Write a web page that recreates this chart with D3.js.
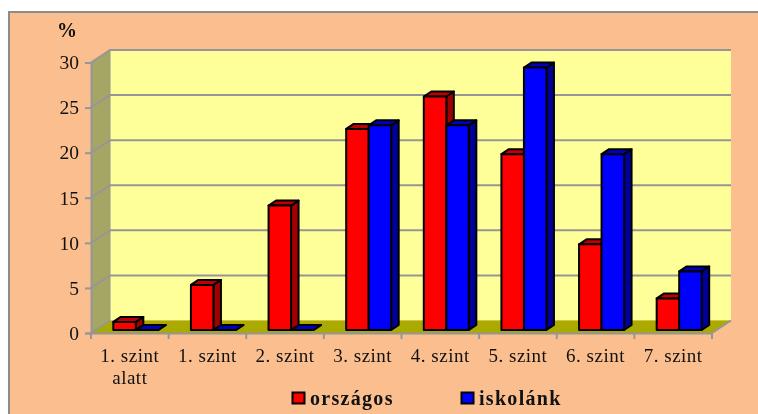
<!DOCTYPE html>
<html>
<head>
<meta charset="utf-8">
<script src="https://cdn.jsdelivr.net/npm/d3@7"></script>
<style>
html, body { margin: 0; padding: 0; background: #fff; }
svg { filter: blur(0.35px); }
text { font-family: "Liberation Serif", serif; fill: #111; }
</style>
</head>
<body>
<div id="chart"></div>
<script>
// values
var categories = ["1. szint alatt", "1. szint", "2. szint", "3. szint", "4. szint", "5. szint", "6. szint", "7. szint"];
var seriesNames = ["országos", "iskolánk"];
var orszagos = [0.9, 5, 13.8, 22.3, 25.9, 19.5, 9.5, 3.5];
var iskolank = [0, 0, 0, 22.7, 22.7, 29.1, 19.5, 6.5];
var yTicks = [0, 5, 10, 15, 20, 25, 30];

var frontColors = ["#ff0000", "#0000ff"];
var topColors = ["#c00000", "#0000c0"];
var sideColors = ["#a00000", "#000099"];

var w = 758, h = 414;
var depth = {x: 19, y: -12.5};   // wall offset of the 3d box
var barDepth = {x: 7.5, y: -5};  // depth of each bar
var barShift = {x: 6, y: -3};    // bars stand a bit behind the front edge

var svg = d3.select("#chart")
    .append("svg")
    .attr("width", w)
    .attr("height", h)
    .style("display", "block");

// background frame
svg.append("rect")
    .attr("x", 9).attr("y", 12)
    .attr("width", w - 9).attr("height", h - 12)
    .attr("fill", "#fbbf8f");
svg.append("path")
    .attr("d", "M9," + h + "V12H" + w)
    .attr("fill", "none")
    .attr("stroke", "#8c8c8c")
    .attr("stroke-width", 2);

var y = d3.scaleLinear().domain([0, 30]).range([333, 62.5]);
var x = d3.scaleBand().domain(categories).range([91, 712]).paddingInner(0.42).paddingOuter(0.21);
var xEdge = d3.scaleBand().domain(categories).range([91, 712]);
var xSeries = d3.scaleBand().domain(seriesNames).range([0, x.bandwidth()]);

var gray = "#969696";

// walls and floor
svg.append("path")
    .attr("d", d3.line()([[91, y(0)], [91, y(30)], [91 + depth.x, y(30) + depth.y], [91 + depth.x, y(0) + depth.y]]) + "Z")
    .attr("fill", "#a6a664");
svg.append("rect")
    .attr("x", 91 + depth.x).attr("y", y(30) + depth.y)
    .attr("width", 621).attr("height", y(0) - y(30))
    .attr("fill", "#ffff99");
svg.append("path")
    .attr("d", d3.line()([[91, y(0)], [712, y(0)], [712 + depth.x, y(0) + depth.y], [91 + depth.x, y(0) + depth.y]]) + "Z")
    .attr("fill", "#aaaa00");

// gridlines
yTicks.forEach(function(t) {
    svg.append("path")
        .attr("d", "M91," + y(t) + "l" + depth.x + "," + depth.y + "h621")
        .attr("fill", "none")
        .attr("stroke", gray)
        .attr("stroke-width", t == 0 ? 0 : 2);
});
svg.append("path")
    .attr("d", "M" + (91 + depth.x) + "," + (y(30) + depth.y) + "V" + (y(0) + depth.y))
    .attr("stroke", gray).attr("stroke-width", 1).attr("fill", "none");
svg.append("path")
    .attr("d", "M91," + y(0) + "l" + depth.x + "," + depth.y)
    .attr("stroke", gray).attr("stroke-width", 2).attr("fill", "none");
svg.append("path")
    .attr("d", "M712," + y(0) + "l" + depth.x + "," + depth.y)
    .attr("stroke", gray).attr("stroke-width", 2).attr("fill", "none");

// axes
var yAxis = d3.axisLeft(y).tickValues(yTicks).tickSize(6).tickPadding(6);
var gy = svg.append("g").attr("transform", "translate(91,0)").call(yAxis);
gy.select(".domain").attr("stroke", gray).attr("stroke-width", 2);
gy.selectAll("line").attr("stroke", gray).attr("stroke-width", 2);
gy.selectAll("text")
    .attr("font-size", 19.5)
    .attr("font-family", "Liberation Serif")
    .attr("fill", "#111")
    .attr("dy", "0.32em");

var xAxis = d3.axisBottom(xEdge).tickValues([]).tickSizeOuter(0);
var gx = svg.append("g").attr("transform", "translate(0," + y(0) + ")").call(xAxis);
gx.select(".domain").attr("stroke", gray).attr("stroke-width", 2);
gx.selectAll(".edge").data(categories.concat(["end"])).enter().append("line")
    .attr("class", "edge")
    .attr("x1", function(d, i) { return 91 + i * xEdge.step(); })
    .attr("x2", function(d, i) { return 91 + i * xEdge.step(); })
    .attr("y1", 0).attr("y2", 6)
    .attr("stroke", gray).attr("stroke-width", 2);

// category labels, wrapped like the original
var labels = svg.append("g").selectAll("text").data(categories).enter().append("text")
    .attr("text-anchor", "middle")
    .attr("font-size", 19)
    .attr("letter-spacing", 0.5)
    .attr("y", 362);
labels.each(function(d) {
    var parts = d.indexOf(" alatt") > 0 ? ["1. szint", "alatt"] : [d];
    d3.select(this).selectAll("tspan").data(parts).enter().append("tspan")
        .attr("x", xEdge(d) + xEdge.bandwidth() / 2)
        .attr("dy", function(p, i) { return i ? 22 : 0; })
        .text(function(p) { return p; });
});

// % label
svg.append("text")
    .attr("x", 67).attr("y", 37)
    .attr("text-anchor", "middle")
    .attr("font-size", 20)
    .attr("font-weight", "bold")
    .text("%");

// bars
var values = [orszagos, iskolank];
var baseY = y(0) + barShift.y;

categories.forEach(function(c, ci) {
    seriesNames.forEach(function(s, si) {
        var v = values[si][ci];
        var x0 = x(c) + xSeries(s) + barShift.x;
        var x1 = x0 + xSeries.bandwidth();
        var top = baseY - (y(0) - y(v));
        var g = svg.append("g")
            .attr("stroke", "#000")
            .attr("stroke-width", 2)
            .attr("stroke-linejoin", "round");
        g.append("path")
            .attr("d", d3.line()([[x1, baseY], [x1 + barDepth.x, baseY + barDepth.y], [x1 + barDepth.x, top + barDepth.y], [x1, top]]) + "Z")
            .attr("fill", sideColors[si]);
        g.append("path")
            .attr("d", d3.line()([[x0, top], [x1, top], [x1 + barDepth.x, top + barDepth.y], [x0 + barDepth.x, top + barDepth.y]]) + "Z")
            .attr("fill", topColors[si]);
        if (v > 0) {
            g.append("rect")
                .attr("x", x0).attr("y", top)
                .attr("width", xSeries.bandwidth())
                .attr("height", baseY - top)
                .attr("fill", frontColors[si]);
        }
    });
});

// legend
var legendX = d3.scaleOrdinal().domain(seriesNames).range([292.5, 461.5]);
var legend = svg.append("g").selectAll("g").data(seriesNames).enter().append("g")
    .attr("transform", function(d) { return "translate(" + legendX(d) + ",392.5)"; });
legend.append("rect")
    .attr("x", 0).attr("y", 0)
    .attr("width", 12).attr("height", 11)
    .attr("fill", function(d, i) { return frontColors[i]; })
    .attr("stroke", "#000").attr("stroke-width", 2);
legend.append("text")
    .attr("x", 17.5).attr("y", 12)
    .attr("font-size", 20)
    .attr("font-weight", "bold")
    .attr("letter-spacing", 1.3)
    .text(function(d) { return d; });
</script>
</body>
</html>
